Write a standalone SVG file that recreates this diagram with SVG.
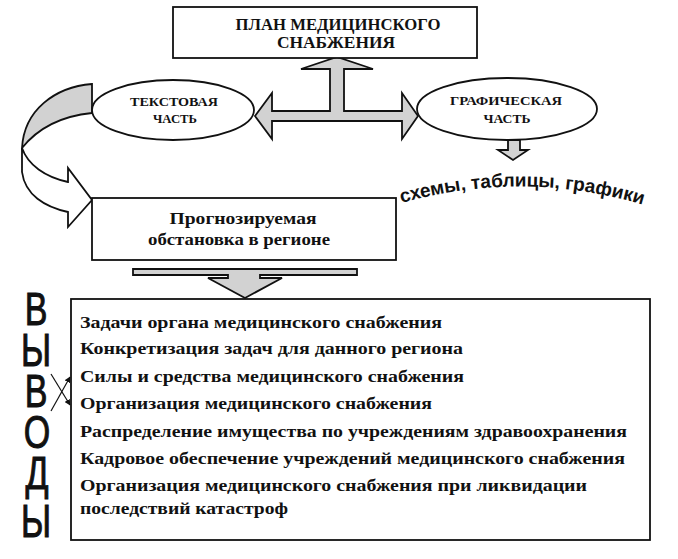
<svg xmlns="http://www.w3.org/2000/svg" width="678" height="559" viewBox="0 0 678 559">
<style>
.box{fill:#fff;stroke:#111;stroke-width:1.8}
.arr{fill:#d2d2d2;stroke:#111;stroke-width:1.8;stroke-linejoin:miter}
.warr{fill:#fff;stroke:#111;stroke-width:1.8}
.ln{fill:none;stroke:#111;stroke-width:1.2}
.t{font-weight:bold;fill:#111}
.s{fill:#111}
.big{fill:#111;stroke:#111;stroke-width:1}
</style>
<defs>
<marker id="ah" viewBox="0 0 10 10" refX="9" refY="5" markerWidth="6" markerHeight="6" orient="auto" markerUnits="userSpaceOnUse">
<path d="M0,0 L10,5 L0,10 Z" fill="#111"/>
</marker>
<path id="arc" d="M362,216 Q522,156 682,218"/>
</defs>
<rect width="678" height="559" fill="#fff"/>

<g id="connectors">
<polygon class="arr" points="255,116 272,93 272,111 330,111 330,69 301,69 337,57 373,69 344,69 344,111 402,111 402,93 418,116 402,139 402,121 272,121 272,139"/>
<path class="arr" d="M92,84 C55,87 24,110 22,148 C38,128 62,116 92,113 Z"/>
<path class="warr" d="M22,148 L22,172 C25,195 45,207 68,212 L68,227 L92,200 L68,168 L68,182 C45,177 28,165 22,148 Z"/>
<polygon class="arr" points="508,140 520,140 520,150 528,150 513,160 498,150 508,150"/>
<polygon class="arr" points="133,269 357,269 357,275 260,275 260,278 282,278 245,298 208,278 228,278 228,275 133,275"/>
<line class="ln" x1="51" y1="374" x2="70" y2="405" marker-end="url(#ah)"/>
<line class="ln" x1="51" y1="411" x2="70" y2="377" marker-end="url(#ah)"/>
</g>

<g font-family="'Liberation Serif', 'DejaVu Serif', serif">
<g id="plan">
<rect class="box" x="173" y="7" width="304" height="51"/>
<text class="t" x="338" y="30" font-size="16" text-anchor="middle" textLength="205" lengthAdjust="spacingAndGlyphs">ПЛАН МЕДИЦИНСКОГО</text>
<text class="t" x="336" y="48" font-size="16" text-anchor="middle" textLength="118" lengthAdjust="spacingAndGlyphs">СНАБЖЕНИЯ</text>
</g>

<g id="text-part">
<ellipse class="box" cx="173" cy="110" rx="81" ry="30"/>
<text class="t" x="174" y="106" font-size="12" text-anchor="middle" textLength="88" lengthAdjust="spacingAndGlyphs">ТЕКСТОВАЯ</text>
<text class="t" x="175" y="123" font-size="12" text-anchor="middle" textLength="44" lengthAdjust="spacingAndGlyphs">ЧАСТЬ</text>
</g>

<g id="graph-part">
<ellipse class="box" cx="507" cy="109" rx="90" ry="31"/>
<text class="t" x="506" y="105" font-size="12" text-anchor="middle" textLength="112" lengthAdjust="spacingAndGlyphs">ГРАФИЧЕСКАЯ</text>
<text class="t" x="507" y="123" font-size="12" text-anchor="middle" textLength="47" lengthAdjust="spacingAndGlyphs">ЧАСТЬ</text>
</g>

<g id="forecast">
<rect class="box" x="92" y="198" width="304" height="62"/>
<text class="t" x="243" y="224" font-size="17" text-anchor="middle" textLength="147" lengthAdjust="spacingAndGlyphs">Прогнозируемая</text>
<text class="t" x="239" y="245" font-size="17" text-anchor="middle" textLength="182" lengthAdjust="spacingAndGlyphs">обстановка в регионе</text>
</g>

<g id="conclusions">
<rect class="box" x="71" y="299" width="579" height="241"/>
<text class="t" x="80" y="328" font-size="16" textLength="362" lengthAdjust="spacingAndGlyphs">Задачи органа медицинского снабжения</text>
<text class="t" x="80" y="354" font-size="16" textLength="383" lengthAdjust="spacingAndGlyphs">Конкретизация задач для данного региона</text>
<text class="t" x="80" y="382" font-size="16" textLength="384" lengthAdjust="spacingAndGlyphs">Силы и средства медицинского снабжения</text>
<text class="t" x="80" y="409" font-size="16" textLength="352" lengthAdjust="spacingAndGlyphs">Организация медицинского снабжения</text>
<text class="t" x="80" y="437" font-size="16" textLength="547" lengthAdjust="spacingAndGlyphs">Распределение имущества по учреждениям здравоохранения</text>
<text class="t" x="80" y="464" font-size="16" textLength="545" lengthAdjust="spacingAndGlyphs">Кадровое обеспечение учреждений медицинского снабжения</text>
<text class="t" x="80" y="491" font-size="16" textLength="507" lengthAdjust="spacingAndGlyphs">Организация медицинского снабжения при ликвидации</text>
<text class="t" x="80" y="514" font-size="16" textLength="208" lengthAdjust="spacingAndGlyphs">последствий катастроф</text>
</g>
</g>

<g font-family="'Liberation Sans', 'Noto Sans', Arial, sans-serif">
<g id="graph-items">
<text class="s" font-size="19" font-weight="bold"><textPath href="#arc" startOffset="50%" text-anchor="middle">схемы, таблицы, графики</textPath></text>
</g>

<g id="vyvody" class="big" font-size="46" text-anchor="middle">
<text transform="translate(36,325) scale(0.74,1)">В</text>
<text transform="translate(36,366) scale(0.74,1)">Ы</text>
<text transform="translate(36,407) scale(0.74,1)">В</text>
<text transform="translate(37,448) scale(0.74,1)">О</text>
<text transform="translate(37,489) scale(0.74,1)">Д</text>
<text transform="translate(36,537) scale(0.74,1)">Ы</text>
</g>
</g>
</svg>
